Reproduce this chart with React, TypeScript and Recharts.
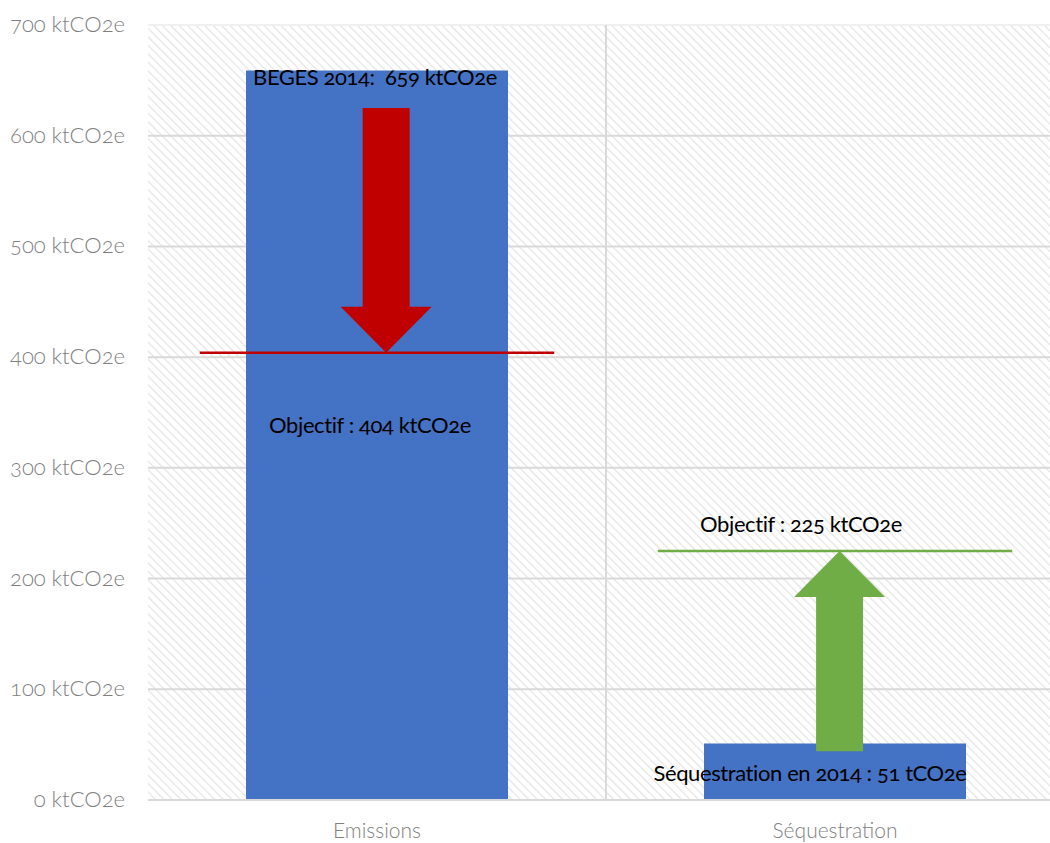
import React from 'react';
import {
  ComposedChart,
  Bar,
  XAxis,
  YAxis,
  CartesianGrid,
  ReferenceLine,
  LabelList,
} from 'recharts';

// ---- data ----
const categories = ['Emissions', 'Séquestration'];
const values2014 = [659, 51];
const objectives = [404, 225];
const arrowFrom = [625, 44];
const yTicks = [0, 100, 200, 300, 400, 500, 600, 700];
const unit = 'ktCO2e';

const barLabels = [
  `BEGES 2014:  ${values2014[0]} ktCO2e`,
  `Séquestration en 2014 : ${values2014[1]} tCO2e`,
];
const objectiveLabels = objectives.map((v) => `Objectif : ${v} ktCO2e`);

// each category sits in the middle of its own unit-wide band on the x axis
const data = categories.map((name, i) => ({ name, pos: i + 0.5, value: values2014[i] }));
const categoryTicks = data.map((d) => d.pos);

// ---- styling ----
const BAR_COLOR = '#4472C4';
const OBJ_COLORS = ['#C00000', '#70AD47'];
const GRID_COLOR = '#d9d9d9';
const AXIS_TEXT = '#7f7f7f';
const FONT = 'Lato, "Open Sans", sans-serif';

// annotation layout (band units on x, pixels for text)
const ARROW_SHIFT = [0.02, 0.01];
const LINE_HALF_SPAN = 0.387;
const OBJ_LABEL_DX = [-7, -34];
const OBJ_LABEL_DY = [80, -19];

const YTick = (props: any) => {
  const { y, payload } = props;
  return (
    <text
      x={125}
      y={y + 7}
      textAnchor="end"
      fill={AXIS_TEXT}
      fontFamily={FONT}
      fontWeight={300}
      fontSize={22}
      style={{ fontFeatureSettings: '"onum"' }}
    >
      {`${payload.value} ${unit}`}
    </text>
  );
};

const XTick = (props: any) => {
  const { x, y, payload } = props;
  const idx = categoryTicks.indexOf(payload.value);
  return (
    <text
      x={x}
      y={y + 30}
      textAnchor="middle"
      fill={AXIS_TEXT}
      fontFamily={FONT}
      fontWeight={300}
      fontSize={21}
    >
      {categories[idx] ?? ''}
    </text>
  );
};

const GridLine = (props: any) => {
  const { x1, x2, y1, y2 } = props;
  // the top edge of the plot is drawn much fainter than the inner grid
  const top = y1 < 40;
  return (
    <line
      x1={x1}
      x2={x2}
      y1={y1}
      y2={y2}
      stroke={top ? '#f0f0f0' : GRID_COLOR}
      strokeWidth={2}
    />
  );
};

const BarText = (props: any) => {
  const { x, y, width, index } = props;
  const cx = x + width / 2 + (index === 0 ? -2 : -25);
  const ty = index === 0 ? y + 15 : y + 37;
  return (
    <text
      x={cx}
      y={ty}
      textAnchor="middle"
      fill="#000"
      fontFamily={FONT}
      fontSize={22}
      letterSpacing={-0.4}
      style={{ fontFeatureSettings: '"onum"', whiteSpace: 'pre' }}
    >
      {barLabels[index]}
    </text>
  );
};

const makeArrow = (color: string) => (props: any) => {
  const { x1, y1, y2 } = props;
  const x = x1;
  const dir = y2 > y1 ? 1 : -1;
  const headLen = 46;
  const headHalf = 45.5;
  const shaftHalf = 23.5;
  const yb = y2 - dir * headLen;
  const pts = [
    [x - shaftHalf, y1],
    [x + shaftHalf, y1],
    [x + shaftHalf, yb],
    [x + headHalf, yb],
    [x, y2],
    [x - headHalf, yb],
    [x - shaftHalf, yb],
  ];
  return <polygon points={pts.map((p) => p.join(',')).join(' ')} fill={color} />;
};

const makeObjective = (i: number) => (props: any) => {
  const { x1, y1, x2, y2 } = props;
  return (
    <g>
      <line x1={x1} y1={y1} x2={x2} y2={y2} stroke={OBJ_COLORS[i]} strokeWidth={2.5} />
      <text
        x={(x1 + x2) / 2 + OBJ_LABEL_DX[i]}
        y={y1 + OBJ_LABEL_DY[i]}
        textAnchor="middle"
        fill="#000"
        fontFamily={FONT}
        fontSize={22}
        letterSpacing={-0.4}
        style={{ fontFeatureSettings: '"onum"' }}
      >
        {objectiveLabels[i]}
      </text>
    </g>
  );
};

export default function App() {
  return (
    <div
      style={{
        position: 'absolute',
        left: 0,
        top: 0,
        width: 1050,
        height: 843,
        overflow: 'hidden',
        background: '#fff',
      }}
    >
      <ComposedChart
        width={1070}
        height={843}
        data={data}
        margin={{ top: 25, right: 6, bottom: 0, left: 0 }}
      >
        <defs>
          <pattern
            id="hatch"
            width={6}
            height={6}
            patternUnits="userSpaceOnUse"
            patternTransform="rotate(-45)"
          >
            <rect width={6} height={6} fill="#ffffff" />
            <line x1={0} y1={0} x2={0} y2={6} stroke="#e4e4e4" strokeWidth={2.4} />
          </pattern>
        </defs>
        <CartesianGrid
          vertical={false}
          horizontal={<GridLine />}
          fill="url(#hatch)"
          fillOpacity={1}
        />
        <XAxis
          dataKey="pos"
          type="number"
          domain={[0, categories.length]}
          ticks={categoryTicks}
          allowDataOverflow
          height={43}
          axisLine={{ stroke: GRID_COLOR, strokeWidth: 2 }}
          tickLine={false}
          tick={<XTick />}
          interval={0}
        />
        <YAxis
          domain={[0, 700]}
          ticks={yTicks}
          width={148}
          axisLine={false}
          tickLine={false}
          tick={<YTick />}
          interval={0}
        />
        <ReferenceLine x={1} stroke={GRID_COLOR} strokeWidth={2} />
        <Bar dataKey="value" fill={BAR_COLOR} barSize={262} isAnimationActive={false}>
          <LabelList dataKey="value" content={<BarText />} />
        </Bar>
        {objectives.map((v, i) => (
          <ReferenceLine
            key={`obj-${i}`}
            segment={[
              { x: i + 0.5 - LINE_HALF_SPAN, y: v },
              { x: i + 0.5 + LINE_HALF_SPAN, y: v },
            ]}
            shape={makeObjective(i)}
          />
        ))}
        {objectives.map((v, i) => (
          <ReferenceLine
            key={`arrow-${i}`}
            segment={[
              { x: i + 0.5 + ARROW_SHIFT[i], y: arrowFrom[i] },
              { x: i + 0.5 + ARROW_SHIFT[i], y: v },
            ]}
            shape={makeArrow(OBJ_COLORS[i])}
          />
        ))}
      </ComposedChart>
    </div>
  );
}
